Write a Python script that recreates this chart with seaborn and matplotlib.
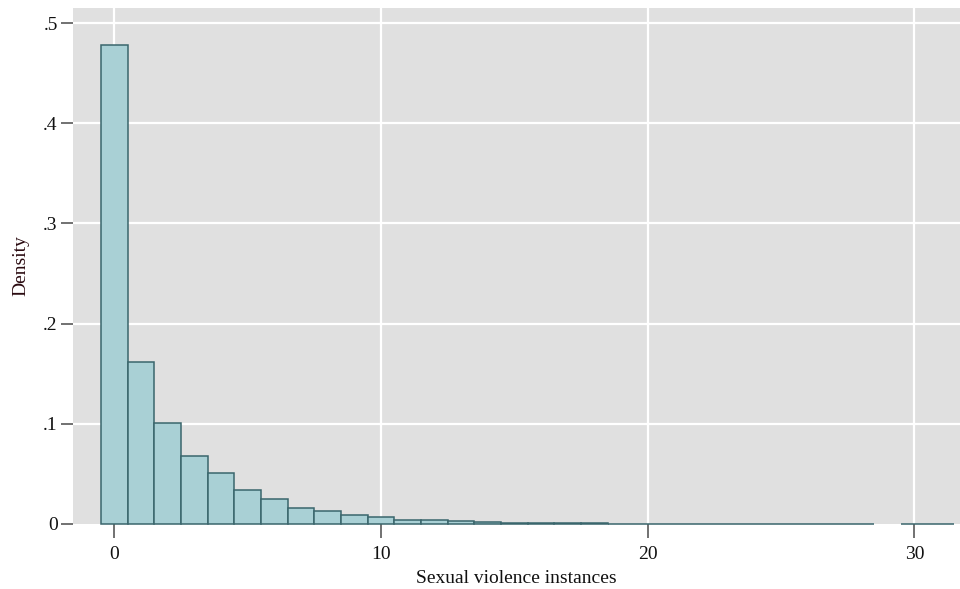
import numpy as np
import pandas as pd
import matplotlib
matplotlib.use("Agg")
import matplotlib.pyplot as plt
import seaborn as sns

# Data: bin centers (instances) and density
instances = [0, 1, 2, 3, 4, 5, 6, 7, 8, 9, 10, 11, 12, 13, 14, 15, 16, 17, 18, 19,
             20, 21, 22, 23, 24, 25, 26, 27, 28, 30, 31]
density = [0.478, 0.162, 0.101, 0.068, 0.0506, 0.034, 0.0246, 0.0155, 0.013, 0.0093,
           0.0067, 0.0043, 0.0037, 0.0027, 0.0017, 0.0011, 0.0009, 0.0005, 0.0005, 0.0004,
           0.0003, 0.0003, 0.0003, 0.0003, 0.0003, 0.0003, 0.0003, 0.0003, 0.0003, 0.0003, 0.0003]
x_ticks = [0, 10, 20, 30]
y_ticks = [0, 0.1, 0.2, 0.3, 0.4, 0.5]
y_ticklabels = ["0", ".1", ".2", ".3", ".4", ".5"]

df = pd.DataFrame({"instances": instances, "density": density})

sns.set_style("white")
plt.rcParams["font.family"] = ["Liberation Serif", "DejaVu Serif"]

fig = plt.figure(figsize=(9.6, 5.89), dpi=100)
ax = fig.add_axes([73 / 960, 1 - 524 / 589, 1 - 73 / 960, (524 - 8) / 589])
ax.set_facecolor("#e0e0e0")

sns.histplot(data=df, x="instances", weights="density", binwidth=1, binrange=(-0.5, 31.5),
             stat="count", color="#a9d0d5", edgecolor="#3a666c", linewidth=1.1,
             alpha=1.0, ax=ax, zorder=3)
for p in ax.patches:
    if p.get_height() <= 0:
        p.set_visible(False)
    else:
        p.set_clip_on(False)

ax.set_xlim(-1.55, 31.71)
ax.set_ylim(0, 0.515)
ax.set_xticks(x_ticks)
ax.set_yticks(y_ticks)
ax.set_yticklabels(y_ticklabels)
ax.grid(True, color="white", linewidth=1.6, zorder=0)
ax.set_axisbelow(True)
# hide the grid line at y=0
ax.get_ygridlines()[0].set_visible(False)
for s in ax.spines.values():
    s.set_visible(False)
ax.tick_params(axis="both", direction="out", width=1.3, color="#666666",
               labelsize=14, labelcolor="#111111", bottom=True, left=True)
ax.tick_params(axis="x", length=10, pad=6)
ax.tick_params(axis="y", length=9, pad=2)
ax.set_xlabel("Sexual violence instances", fontsize=14, color="#111111", labelpad=5)
ax.set_ylabel("Density", fontsize=14, color="#2a0a10", labelpad=10)

fig.savefig("out.png", dpi=100)
